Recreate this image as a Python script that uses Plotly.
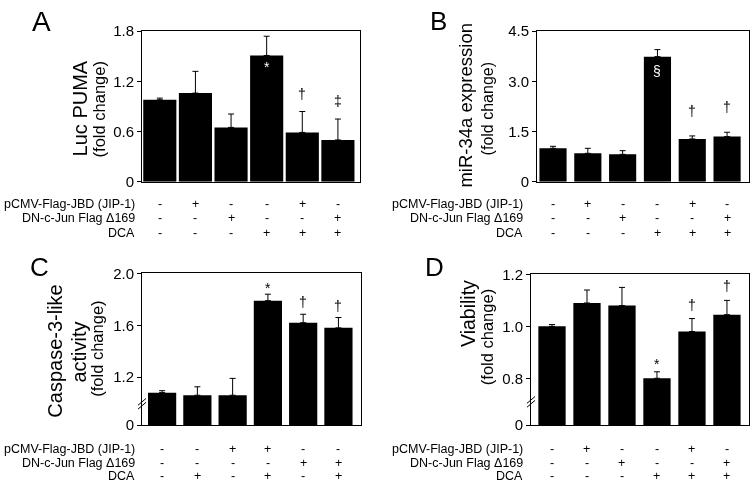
import plotly.graph_objects as go

W, H = 750, 489

# ---------------- data ----------------
conditions = [0, 1, 2, 3, 4, 5]
row_labels = ["pCMV-Flag-JBD (JIP-1)", "DN-c-Jun Flag \u0394169", "DCA"]

# Panel A: Luc PUMA
a_values = [0.98, 1.06, 0.65, 1.51, 0.59, 0.50]
a_errors = [0.02, 0.26, 0.16, 0.23, 0.25, 0.25]
a_marks = ["", "", "", "*", "\u2020", "\u2021"]
a_jbd = ["-", "+", "-", "-", "+", "-"]
a_dn = ["-", "-", "+", "-", "-", "+"]
a_dca = ["-", "-", "-", "+", "+", "+"]
a_ticks = [0, 0.6, 1.2, 1.8]
a_ticktext = ["0", "0.6", "1.2", "1.8"]

# Panel B: miR-34a expression
b_values = [1.00, 0.85, 0.82, 3.74, 1.28, 1.35]
b_errors = [0.06, 0.15, 0.11, 0.21, 0.09, 0.13]
b_marks = ["", "", "", "\u00a7", "\u2020", "\u2020"]
b_jbd = ["-", "+", "-", "-", "+", "-"]
b_dn = ["-", "-", "+", "-", "-", "+"]
b_dca = ["-", "-", "-", "+", "+", "+"]
b_ticks = [0, 1.5, 3.0, 4.5]
b_ticktext = ["0", "1.5", "3.0", "4.5"]

# Panel C: Caspase-3-like activity (broken axis)
c_values = [1.08, 1.06, 1.06, 1.79, 1.62, 1.58]
c_errors = [0.015, 0.065, 0.13, 0.05, 0.065, 0.08]
c_marks = ["", "", "", "*", "\u2020", "\u2020"]
c_jbd = ["-", "-", "+", "+", "-", "-"]
c_dn = ["-", "-", "-", "-", "+", "+"]
c_dca = ["-", "+", "-", "+", "-", "+"]
c_ticks = [0.83, 1.2, 1.6, 2.0]
c_ticktext = ["0", "1.2", "1.6", "2.0"]

# Panel D: Viability (broken axis)
d_values = [1.00, 1.09, 1.08, 0.80, 0.98, 1.045]
d_errors = [0.007, 0.05, 0.07, 0.025, 0.05, 0.055]
d_marks = ["", "", "", "*", "\u2020", "\u2020"]
d_jbd = ["-", "+", "-", "-", "+", "-"]
d_dn = ["-", "-", "+", "-", "-", "+"]
d_dca = ["-", "-", "-", "+", "+", "+"]
d_ticks = [0.62, 0.8, 1.0, 1.2]
d_ticktext = ["0", "0.8", "1.0", "1.2"]

# ---------------- layout helpers ----------------
FONT = "Liberation Sans, Arial, Helvetica, sans-serif"


def fx(px):
    return px / W


def fy(py):
    return 1 - py / H


panels = [
    dict(name="", values=a_values, errors=a_errors, marks=a_marks, rows=[a_jbd, a_dn, a_dca],
         ticks=a_ticks, ticktext=a_ticktext, yr=[0, 1.8],
         box=(142, 360, 23, 179), xr=[-0.5, 5.62], bw=0.93,
         rowy=[202, 217, 232], labx=137, mshift=8, inside_white=True,
         letter=("A", 41, 13, 28),
         titles=[("Luc PUMA", 80, 103, 20), ("(fold change)", 99, 104, 16.5)],
         brk=None),
    dict(name="2", values=b_values, errors=b_errors, marks=b_marks, rows=[b_jbd, b_dn, b_dca],
         ticks=b_ticks, ticktext=b_ticktext, yr=[0, 4.5],
         box=(537, 749, 23, 179), xr=[-0.46, 5.63], bw=0.78,
         rowy=[202, 217, 232], labx=525, mshift=15, inside_white=True,
         letter=("B", 438, 12, 26),
         titles=[("miR-34a expression", 466, 99, 18.5), ("(fold change)", 487, 104, 16)],
         brk=None),
    dict(name="3", values=c_values, errors=c_errors, marks=c_marks, rows=[c_jbd, c_dn, c_dca],
         ticks=c_ticks, ticktext=c_ticktext, yr=[0.83, 2.0],
         box=(142, 361, 274, 431), xr=[-0.57, 5.64], bw=0.8,
         rowy=[456, 470, 484], labx=137, mshift=2, inside_white=False,
         letter=("C", 39, 267, 26),
         titles=[("Caspase-3-like", 55, 355, 20), ("activity", 79, 356, 20),
                 ("(fold change)", 97, 352, 16.5)],
         brk=(142, 409)),
    dict(name="4", values=d_values, errors=d_errors, marks=d_marks, rows=[d_jbd, d_dn, d_dca],
         ticks=d_ticks, ticktext=d_ticktext, yr=[0.62, 1.2],
         box=(531, 749, 275, 431), xr=[-0.6, 5.63], bw=0.78,
         rowy=[456, 470, 484], labx=525, mshift=4, inside_white=False,
         letter=("D", 435, 267, 26),
         titles=[("Viability", 468, 316, 19.5), ("(fold change)", 487, 340, 16.5)],
         brk=(531, 407)),
]

fig = go.Figure()
annotations = []
shapes = []
layout_axes = {}

for p in panels:
    xa = "x" + p["name"]
    ya = "y" + p["name"]
    fig.add_trace(go.Bar(
        x=conditions, y=p["values"], xaxis=xa, yaxis=ya,
        width=p["bw"], marker=dict(color="black", line=dict(width=0)),
        error_y=dict(type="data", array=p["errors"], arrayminus=[0] * 6, symmetric=False,
                     color="black", thickness=1, width=3),
        showlegend=False, hoverinfo="skip",
    ))
    x0, x1, y0, y1 = p["box"]
    layout_axes["xaxis" + p["name"]] = dict(
        domain=[fx(x0), fx(x1)], range=p["xr"], anchor=ya,
        showline=True, linecolor="black", linewidth=1, mirror=True,
        showticklabels=False, ticks="", showgrid=False, zeroline=False, fixedrange=True,
    )
    layout_axes["yaxis" + p["name"]] = dict(
        domain=[fy(y1), fy(y0)], range=p["yr"], anchor=xa,
        showline=True, linecolor="black", linewidth=1, mirror=True,
        ticks="outside", ticklen=4, tickwidth=1, tickcolor="black",
        tickvals=p["ticks"], ticktext=p["ticktext"],
        tickfont=dict(size=15, color="black", family=FONT),
        showgrid=False, zeroline=False, fixedrange=True,
    )
    # significance marks
    for i, m in enumerate(p["marks"]):
        if not m:
            continue
        top = p["values"][i] + p["errors"][i]
        if m in ("*", "\u00a7") and p["inside_white"]:
            annotations.append(dict(
                x=conditions[i], y=p["values"][i], xref=xa, yref=ya, text=m,
                showarrow=False, yanchor="top", yshift=-2 if m == "*" else -4,
                font=dict(size=14, color="white", family=FONT)))
        else:
            shift = p["mshift"] - (6 if m == "*" else 0)
            annotations.append(dict(
                x=conditions[i], y=top, xref=xa, yref=ya, text=m,
                showarrow=False, yanchor="bottom", yshift=shift,
                font=dict(size=14, color="black", family=FONT)))
    # treatment table
    for r, row in enumerate(p["rows"]):
        annotations.append(dict(
            x=fx(p["labx"]), y=fy(p["rowy"][r]), xref="paper", yref="paper",
            text=row_labels[r], showarrow=False, xanchor="right", yanchor="middle",
            font=dict(size=12.5, color="black", family=FONT)))
        for i, s in enumerate(row):
            annotations.append(dict(
                x=conditions[i], y=fy(p["rowy"][r]), xref=xa, yref="paper",
                text=s, showarrow=False, xanchor="center", yanchor="middle",
                font=dict(size=12.5, color="black", family=FONT)))
    # axis titles
    for t, tx, ty, ts in p["titles"]:
        annotations.append(dict(
            x=fx(tx), y=fy(ty), xref="paper", yref="paper", text=t, textangle=-90,
            showarrow=False, xanchor="center", yanchor="middle",
            font=dict(size=ts, color="black", family=FONT)))
    # panel letter
    L, lx, ly, ls = p["letter"]
    annotations.append(dict(
        x=fx(lx), y=fy(ly), xref="paper", yref="paper", text=L, showarrow=False,
        xanchor="center", yanchor="middle", font=dict(size=ls, color="black", family=FONT)))
    # axis break marks
    if p["brk"]:
        bx, by = p["brk"]
        for dy in (-2, 2):
            shapes.append(dict(
                type="line", xref="paper", yref="paper",
                x0=fx(bx - 4), y0=fy(by + dy + 3.5), x1=fx(bx + 4), y1=fy(by + dy - 3.5),
                line=dict(color="black", width=1)))

fig.update_layout(
    width=W, height=H, margin=dict(l=0, r=0, t=0, b=0),
    paper_bgcolor="white", plot_bgcolor="white",
    annotations=annotations, shapes=shapes,
    font=dict(family=FONT, color="black"),
    **layout_axes,
)

fig.write_html(
    "out.html",
    config={"displayModeBar": False},
    post_script=(
        "document.body.style.margin='0';"
        "document.body.style.overflow='hidden';"
        "document.body.style.filter='grayscale(1)';"
    ),
)
